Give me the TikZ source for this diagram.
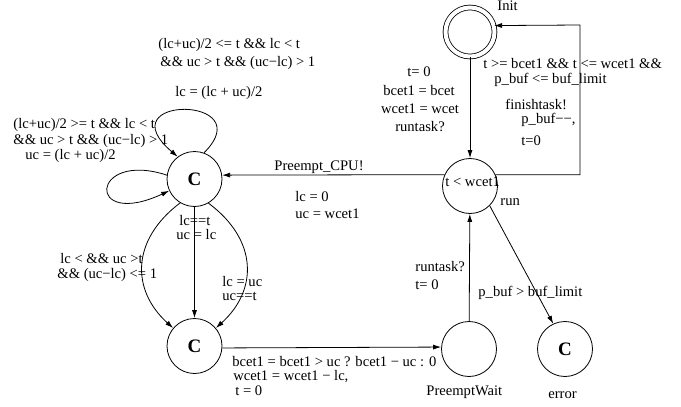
\documentclass[tikz,border=0pt]{standalone}
\usepackage{fontspec}
\setmainfont{Liberation Serif}
\usetikzlibrary{arrows.meta}

\begin{document}
\begin{tikzpicture}[x=1pt,y=-1pt,line width=0.8pt,>={Latex[length=8pt,width=5pt]},
loc/.style={draw,circle,minimum size=55pt,inner sep=0pt,font=\fontsize{19}{19}\selectfont\bfseries},
lbl/.style={inner sep=0pt,anchor=west,text height=10pt,text depth=2.5pt,font=\fontsize{14.6}{18}\selectfont}]
\newcommand\tila[3]{
\node[loc] (#1) at (#2) {#3};
}
\newcommand\teksti[3]{
\node[lbl] (#1) at (#2) {#3};
}
\useasboundingbox (0,0) rectangle (681,407);
\node[loc,double,double distance=4pt,minimum size=49pt] (init) at (470,32) {};
\tila{run}{470,186}{}
\tila{cpu}{194.5,179}{C}
\tila{cpu2}{194.5,346}{C}
\tila{wait}{469,349}{}
\tila{err}{565,349}{C}
\coordinate (c1) at (580,25);
\draw[->] (init) -- (run);
\draw[->] (run.24) -| (c1) -- (init.15);
\draw[->] (run.156) -- (cpu.8);
\draw[->] (cpu.70) .. controls (262,95) and (105,95) .. (cpu.127);
\draw[->] (cpu.172) .. controls (90,150) and (85,230) .. (cpu.205);
\draw[->] (cpu) -- (cpu2);
\draw[->] (cpu.239) .. controls (131,240) and (131,290) .. (cpu2.140);
\draw[->] (cpu.300) .. controls (258,240) and (258,290) .. (cpu2.40);
\draw[->] (cpu2.-4) -- (wait.176);
\draw[->] (wait) -- (run);
\draw[->] (run.-45) -- (err.115);
\teksti{initname}{497,7}{Init}
\teksti{inv}{445,183}{t < wcet1}
\teksti{runname}{500,202}{run}
\teksti{waitname}{426,392}{PreemptWait}
\teksti{errname}{548,395}{error}
\teksti{top1}{158,45}{(lc+uc)/2 <= t \&\& lc < t}
\teksti{top2}{160,63}{\&\& uc > t \&\& (uc−lc) > 1}
\teksti{top3}{175,93}{lc = (lc + uc)/2}
\teksti{lft1}{13,125}{(lc+uc)/2 >= t \&\& lc < t}
\teksti{lft2}{13,141}{\&\& uc > t \&\& (uc−lc) > 1}
\teksti{lft3}{25,156}{uc = (lc + uc)/2}
\teksti{mid1}{179,222}{lc==t}
\teksti{mid2}{176,236}{uc = lc}
\teksti{cl1}{60,260}{lc < \&\& uc >t}
\teksti{cl2}{57,275}{\&\& (uc−lc) <= 1}
\teksti{cr1}{222,283}{lc = uc}
\teksti{cr2}{222,297}{uc==t}
\teksti{pw1}{232,363}{bcet1 = bcet1 > uc ? bcet1 − uc : 0}
\teksti{pw2}{233,377}{wcet1 = wcet1 − lc,}
\teksti{pw3}{235,392}{t = 0}
\teksti{pc1}{274,167}{Preempt\_CPU!}
\teksti{pc2}{295,198}{lc = 0}
\teksti{pc3}{295,215}{uc = wcet1}
\node[lbl,anchor=center] (st1) at (419,73) {t= 0};
\node[lbl,anchor=center] (st2) at (419,92) {bcet1 = bcet};
\node[lbl,anchor=center] (st3) at (420,110) {wcet1 = wcet};
\node[lbl,anchor=center] (st4) at (420,128) {runtask?};
\teksti{fin1}{483,65}{t >= bcet1 \&\& t <= wcet1 \&\&}
\teksti{fin2}{494,80}{p\_buf <= buf\_limit}
\teksti{fin3}{505,106}{finishtask!}
\teksti{fin4}{521,120}{p\_buf−−,}
\teksti{fin5}{521,142}{t=0}
\teksti{rt1}{415,268}{runtask?}
\teksti{rt2}{415,286}{t= 0}
\teksti{ov1}{478,293}{p\_buf > buf\_limit}
\end{tikzpicture}
\end{document}
